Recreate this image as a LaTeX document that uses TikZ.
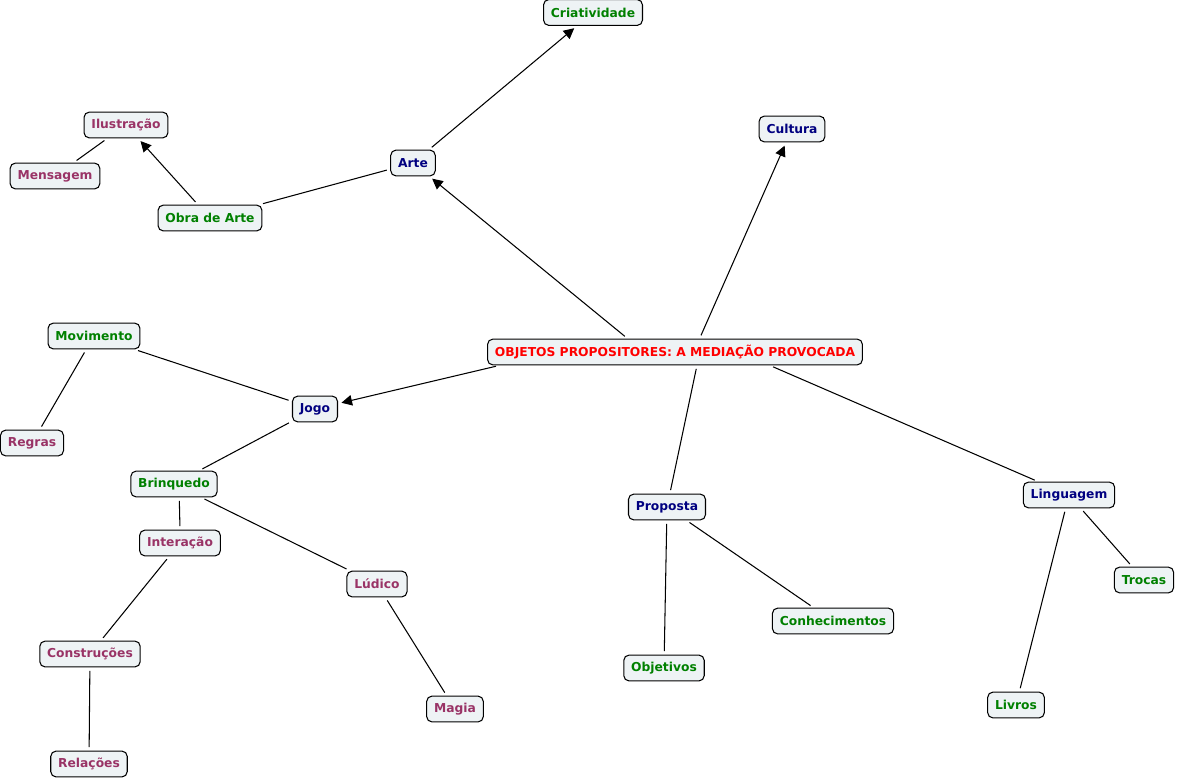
\documentclass[tikz,border=0pt]{standalone}
\usepackage{fontspec}
\setmainfont{DejaVu Sans}
\usetikzlibrary{arrows.meta}
\usepackage{xcolor}
\definecolor{topic}{HTML}{FF0000}
\definecolor{branch}{HTML}{000080}
\definecolor{leafgreen}{HTML}{008000}
\definecolor{leafplum}{HTML}{993366}
\definecolor{boxfill}{HTML}{EEF3F5}

\begin{document}
\begin{tikzpicture}[x=0.02cm,y=-0.02cm,
  concept/.style={draw=black,line width=0.6pt,rounded corners=3pt,fill=boxfill,
    font=\bfseries\fontsize{7}{8}\selectfont,inner xsep=4.2pt,inner ysep=0pt,minimum height=14.7pt},
  lnk/.style={line width=0.6pt,shorten <=2pt,shorten >=2pt},
  arr/.style={lnk,-{Triangle[length=6pt,width=6pt]}}]
  \useasboundingbox (0,0) rectangle (1177,782);

  % Central concept
  \node[concept,text=topic] (obj) at (675,352) {OBJETOS PROPOSITORES: A MEDIAÇÃO PROVOCADA};

  % First level
  \node[concept,text=branch] (arte) at (413,163) {Arte};
  \node[concept,text=branch] (cultura) at (792,129) {Cultura};
  \node[concept,text=branch] (jogo) at (315,409) {Jogo};
  \node[concept,text=branch] (proposta) at (667,507) {Proposta};
  \node[concept,text=branch] (linguagem) at (1069,495) {Linguagem};

  % Second level
  \node[concept,text=leafgreen] (criatividade) at (593,12.5) {Criatividade};
  \node[concept,text=leafgreen] (obra) at (210,218) {Obra de Arte};
  \node[concept,text=leafgreen] (movimento) at (94,336) {Movimento};
  \node[concept,text=leafgreen] (brinquedo) at (174,484) {Brinquedo};
  \node[concept,text=leafgreen] (objetivos) at (664,668) {Objetivos};
  \node[concept,text=leafgreen] (conhec) at (833,621) {Conhecimentos};
  \node[concept,text=leafgreen] (trocas) at (1144,580) {Trocas};
  \node[concept,text=leafgreen] (livros) at (1016,705) {Livros};

  % Third level
  \node[concept,text=leafplum] (ilustracao) at (126,125) {Ilustração};
  \node[concept,text=leafplum] (mensagem) at (55,176) {Mensagem};
  \node[concept,text=leafplum] (regras) at (32,443) {Regras};
  \node[concept,text=leafplum] (interacao) at (180,543) {Interação};
  \node[concept,text=leafplum] (ludico) at (377,584) {Lúdico};
  \node[concept,text=leafplum] (construcoes) at (90,654) {Construções};
  \node[concept,text=leafplum] (magia) at (455,709) {Magia};
  \node[concept,text=leafplum] (relacoes) at (89,764) {Relações};

  % Links from the centre
  \draw[arr] ([xshift=-27pt]obj.north) -- (arte);
  \draw[arr] ([xshift=14pt]obj.north) -- (cultura);
  \draw[arr] ([xshift=7pt]obj.south west) -- (jogo);
  \draw[lnk] ([xshift=12.5pt]obj.south) -- (proposta);
  \draw[lnk] ([xshift=54pt]obj.south) -- (linguagem);

  % Arte branch
  \draw[arr] (arte) -- (criatividade);
  \draw[lnk] (arte) -- (obra);
  \draw[arr] (obra) -- (ilustracao);
  \draw[lnk] (ilustracao) -- (mensagem);

  % Jogo branch
  \draw[lnk] (jogo) -- (movimento);
  \draw[lnk] (movimento) -- (regras);
  \draw[lnk] (jogo) -- (brinquedo);
  \draw[lnk] ([xshift=3pt]brinquedo.south) -- (interacao.north);
  \draw[lnk] (brinquedo) -- (ludico);
  \draw[lnk] (interacao) -- (construcoes);
  \draw[lnk] (construcoes) -- (relacoes);
  \draw[lnk] (ludico) -- (magia);

  % Proposta and Linguagem branches
  \draw[lnk] (proposta) -- (objetivos);
  \draw[lnk] (proposta) -- (conhec);
  \draw[lnk] (linguagem) -- (trocas);
  \draw[lnk] (linguagem) -- (livros);
\end{tikzpicture}
\end{document}
